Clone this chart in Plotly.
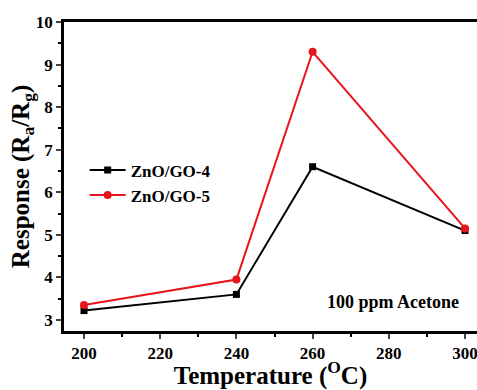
import plotly.graph_objects as go

temps = [200, 240, 260, 300]
zno_go4 = [3.22, 3.60, 6.60, 5.10]
zno_go5 = [3.35, 3.95, 9.30, 5.15]
x_ticks = [200, 220, 240, 260, 280, 300]
y_ticks = [3, 4, 5, 6, 7, 8, 9, 10]

font_family = "Liberation Serif"

fig = go.Figure()
fig.add_trace(go.Scatter(x=temps, y=zno_go4, mode="lines+markers", name="<b>ZnO/GO-4</b>",
                         line=dict(color="black", width=2),
                         marker=dict(symbol="square", size=7, color="black")))
fig.add_trace(go.Scatter(x=temps, y=zno_go5, mode="lines+markers", name="<b>ZnO/GO-5</b>",
                         line=dict(color="#e8141b", width=2),
                         marker=dict(symbol="circle", size=8, color="#e8141b")))

fig.add_annotation(x=0.797, y=0.094, xref="paper", yref="paper", text="<b>100 ppm Acetone</b>",
                   xanchor="center", yanchor="middle",
                   showarrow=False, font=dict(family=font_family, size=18, color="black"))

fig.update_layout(
    width=477, height=390,
    margin=dict(l=64, r=0, t=22, b=59),
    paper_bgcolor="white", plot_bgcolor="white",
    font=dict(family=font_family, color="black"),
    showlegend=True,
    legend=dict(x=0.05, y=0.578, xanchor="left", yanchor="top", bgcolor="rgba(0,0,0,0)",
                font=dict(family=font_family, size=17, color="black"),
                itemwidth=36, tracegroupgap=0),
    xaxis=dict(range=[194.75, 303.15], tickvals=x_ticks, ticktext=[f"<b>{v}</b>" for v in x_ticks],
               ticks="outside", ticklen=5, tickwidth=2, ticklabeloverflow="allow",
               showline=True, linewidth=2.5, linecolor="black", mirror=True, showgrid=False,
               zeroline=False, tickfont=dict(family=font_family, size=17, color="black"),
               title=dict(text="<b>Temperature (<sup>O</sup>C)</b>", font=dict(family=font_family, size=25), standoff=4),
               minor=dict(dtick=10, tick0=200, ticks="outside", ticklen=3, tickwidth=2, tickcolor="black")),
    yaxis=dict(range=[2.74, 10.0], tickvals=y_ticks, ticktext=[f"<b>{v}</b>" for v in y_ticks],
               ticks="outside", ticklen=5, tickwidth=2,
               showline=True, linewidth=2.5, linecolor="black", showgrid=False, zeroline=False,
               tickfont=dict(family=font_family, size=17, color="black"),
               title=dict(text="<b>Response (R<sub>a</sub>/R<sub>g</sub>)</b>", font=dict(family=font_family, size=25), standoff=0),
               minor=dict(dtick=0.5, tick0=3, ticks="outside", ticklen=3, tickwidth=2, tickcolor="black")),
)

fig.write_html("out.html", config={"displayModeBar": False},
               post_script="document.body.style.margin='0px';document.body.style.padding='0px';")
